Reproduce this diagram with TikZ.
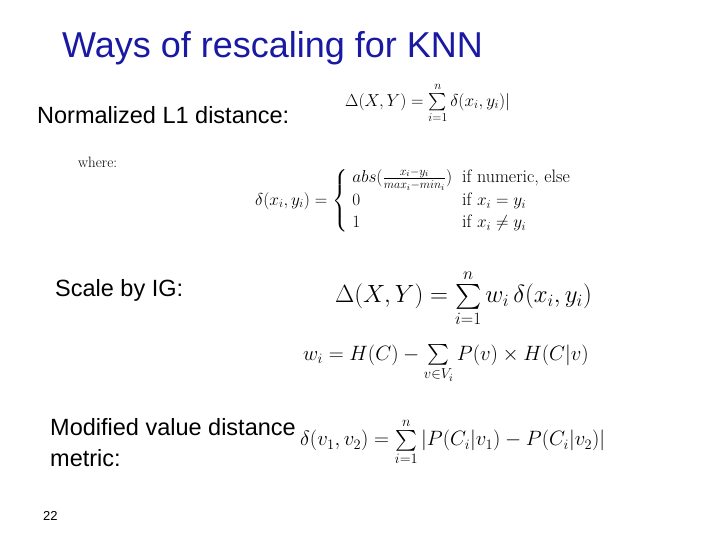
\documentclass[tikz,border=0pt]{standalone}
\usepackage{amsmath}
\usepackage{fontspec}
\setmainfont{Liberation Sans}
\newfontfamily\lmr{Latin Modern Roman}
\begin{document}
\begin{tikzpicture}[x=1pt,y=-1pt,
  lbl/.style={anchor=west,inner sep=0pt,font=\fontsize{23.5}{28}\selectfont},
  frm/.style={anchor=west,inner sep=0pt}]
\useasboundingbox[fill=white] (0,0) rectangle (720,540);
\node[anchor=west,inner sep=0pt,text=blue!60!black!90,font=\fontsize{36}{40}\selectfont] (title) at (62,48) {Ways of rescaling for KNN};
\node[lbl] (n1) at (37,115) {Normalized L1 distance:};
\node[frm,font=\fontsize{18}{21}\selectfont] (f1) at (345,103) {$\Delta(X,Y)=\sum\limits_{i=1}^{n}\delta(x_i,y_i)|$};
\node[frm,font=\lmr\fontsize{15}{18}\selectfont] (where) at (78,162) {where:};
\node[frm,font=\fontsize{18}{22}\selectfont] (f2) at (255,201) {$\delta(x_i,y_i)=\left\{\begin{array}{ll}abs(\frac{x_i-y_i}{max_i-min_i}) & \text{\lmr if numeric, else}\\ 0 & \text{\lmr if } x_i=y_i\\ 1 & \text{\lmr if } x_i\neq y_i\end{array}\right.$};
\node[lbl] (n2) at (55,290) {Scale by IG:};
\node[frm,font=\fontsize{24}{28}\selectfont] (f3) at (335,298) {$\Delta(X,Y)=\sum\limits_{i=1}^{n}w_i\,\delta(x_i,y_i)$};
\node[frm,font=\fontsize{21}{25}\selectfont] (f4) at (303,364) {$w_i=H(C)-\sum\limits_{v\in V_i}P(v)\times H(C|v)$};
\node[lbl] (n3) at (50,427) {Modified value distance};
\node[lbl] (n4) at (50,458) {metric:};
\node[frm,font=\fontsize{20}{24}\selectfont] (f5) at (300,442) {$\delta(v_1,v_2)=\sum\limits_{i=1}^{n}|P(C_i|v_1)-P(C_i|v_2)|$};
\node[anchor=west,inner sep=0pt,font=\fontsize{13}{15}\selectfont] (pg) at (43,516) {22};
\end{tikzpicture}
\end{document}
